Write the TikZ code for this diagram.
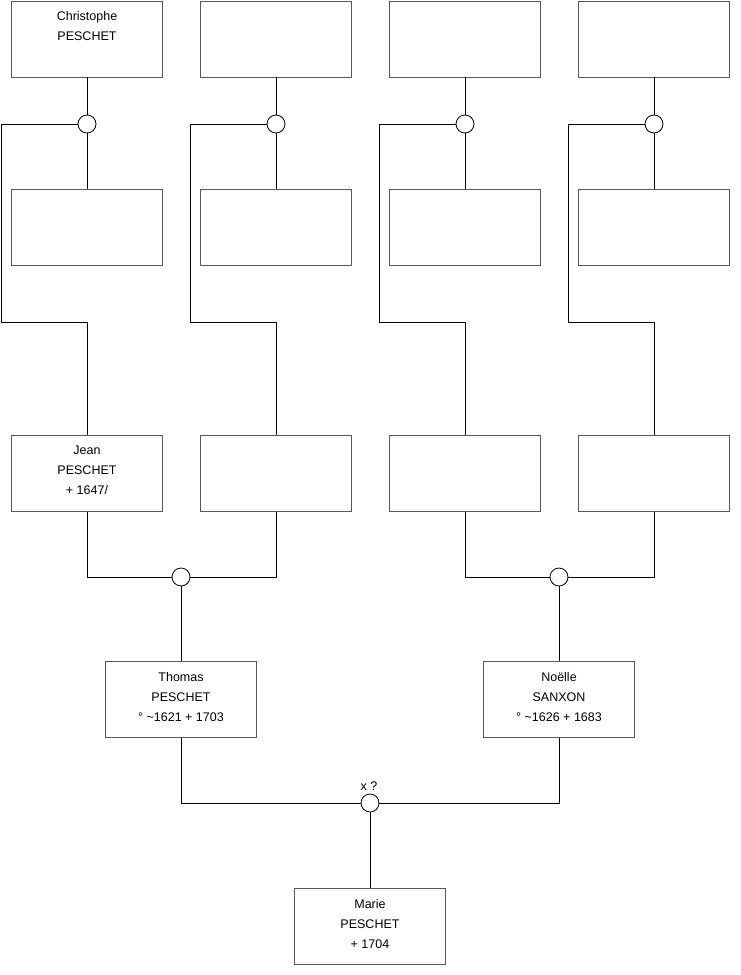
\documentclass[tikz,border=0pt]{standalone}
\usepackage{fontspec}
\setmainfont{Liberation Sans}
\begin{document}
\begin{tikzpicture}[x=1pt,y=-1pt,
  person/.style={draw=black!65, line width=0.9pt, minimum width=151pt, minimum height=76pt, anchor=north, inner sep=0pt},
  ptext/.style={anchor=north, inner sep=0pt, align=center, font=\fontsize{12.5}{20}\selectfont, yshift=-11pt},
  knot/.style={circle, draw=black, fill=white, line width=0.8pt, minimum size=18pt, inner sep=0pt},
  link/.style={draw=black, line width=0.8pt}]
\useasboundingbox (0,0) rectangle (740,975);
% row 1
\node[person] (a1) at (87,0.5) {};
\node[person] (a2) at (276,0.5) {};
\node[person] (a3) at (465,0.5) {};
\node[person] (a4) at (654,0.5) {};
\node[ptext] (ta1) at (a1.north) {Christophe\\PESCHET};
% row 2
\node[person] (b1) at (87,189) {};
\node[person] (b2) at (276,189) {};
\node[person] (b3) at (465,189) {};
\node[person] (b4) at (654,189) {};
% row 3
\node[person] (r1) at (87,435) {};
\node[person] (r2) at (276,435) {};
\node[person] (r3) at (465,435) {};
\node[person] (r4) at (654,435) {};
\node[ptext] (tr1) at (r1.north) {Jean\\PESCHET\\+ 1647/};
% row 4
\node[person] (t1) at (181,661) {};
\node[person] (t2) at (559,661) {};
\node[ptext] (tt1) at (t1.north) {Thomas\\PESCHET\\° \textasciitilde1621 + 1703};
\node[ptext] (tt2) at (t2.north) {Noëlle\\SANXON\\° \textasciitilde1626 + 1683};
% row 5
\node[person] (m) at (370,888) {};
\node[ptext] (tm) at (m.north) {Marie\\PESCHET\\+ 1704};
% knots
\node[knot] (c1) at (87,124) {};
\node[knot] (c2) at (276,124) {};
\node[knot] (c3) at (465,124) {};
\node[knot] (c4) at (654,124) {};
\node[knot] (c5) at (181,577) {};
\node[knot] (c6) at (559,577) {};
\node[knot] (c7) at (370,803) {};
\node[anchor=base, inner sep=0pt, font=\fontsize{12.5}{15}\selectfont] (xq) at (369,790) {x ?};
% corner coordinates
\coordinate (k1) at (1,322);
\coordinate (k2) at (190,322);
\coordinate (k3) at (379,322);
\coordinate (k4) at (568,322);
% connectors
\foreach \i in {1,2,3,4}{
  \draw[link] (a\i.south) -- (c\i.north);
  \draw[link] (c\i.south) -- (b\i.north);
  \draw[link] (c\i.west) -| (k\i) -| (r\i.north);
}
\draw[link] (r1.south) |- (c5.west);
\draw[link] (r2.south) |- (c5.east);
\draw[link] (r3.south) |- (c6.west);
\draw[link] (r4.south) |- (c6.east);
\draw[link] (c5.south) -- (t1.north);
\draw[link] (c6.south) -- (t2.north);
\draw[link] (t1.south) |- (c7.west);
\draw[link] (t2.south) |- (c7.east);
\draw[link] (c7.south) -- (m.north);
\end{tikzpicture}
\end{document}
